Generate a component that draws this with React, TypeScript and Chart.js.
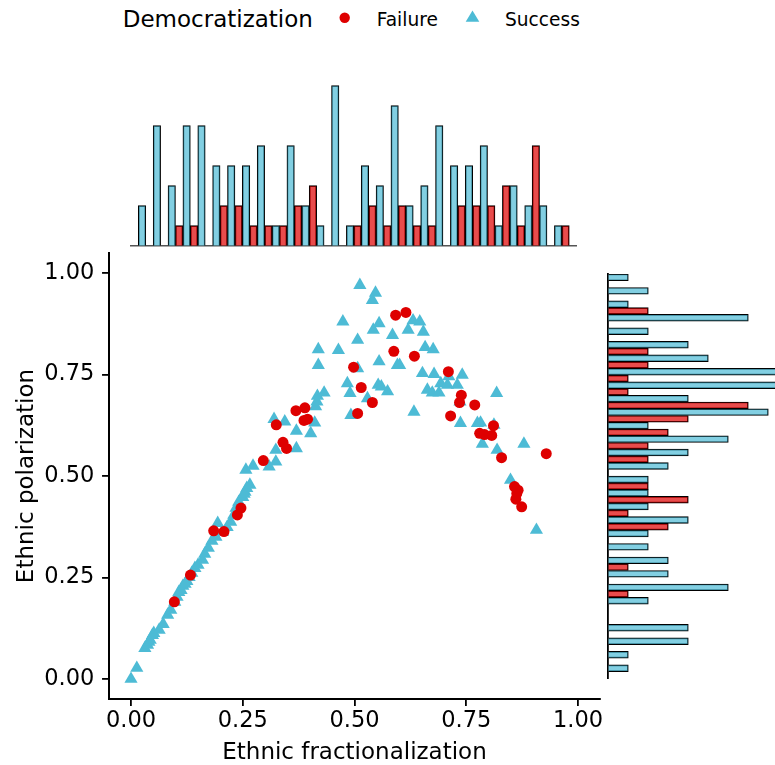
import React, { useEffect, useRef } from "react";
import { Chart, registerables } from "chart.js";

Chart.register(...registerables);

const FONT = "'DejaVu Sans', sans-serif";
const RED = "rgb(222, 0, 0)";
const BLUE = "rgb(77, 187, 213)";
const RED_FILL = "rgba(222, 0, 0, 0.7)";
const BLUE_FILL = "rgba(77, 187, 213, 0.7)";

// ---- Scatter data (Ethnic fractionalization vs Ethnic polarization) ----
const failureFrac = [0.097, 0.133, 0.185, 0.208, 0.238, 0.246, 0.296, 0.325, 0.340, 0.348, 0.369, 0.389, 0.387, 0.395, 0.498, 0.515, 0.540, 0.507, 0.592, 0.615, 0.588, 0.634, 0.710, 0.739, 0.735, 0.769, 0.715, 0.811, 0.791, 0.807, 0.780, 0.829, 0.929, 0.858, 0.863, 0.861, 0.866, 0.874];
const failurePol = [0.190, 0.256, 0.365, 0.363, 0.404, 0.421, 0.538, 0.626, 0.583, 0.568, 0.661, 0.668, 0.637, 0.640, 0.768, 0.718, 0.681, 0.654, 0.896, 0.903, 0.807, 0.795, 0.757, 0.699, 0.681, 0.675, 0.648, 0.624, 0.602, 0.600, 0.605, 0.545, 0.555, 0.474, 0.457, 0.443, 0.465, 0.424];

const successFrac = [0.000, 0.013, 0.031, 0.037, 0.040, 0.043, 0.048, 0.051, 0.063, 0.072, 0.082, 0.089, 0.098, 0.103, 0.107, 0.112, 0.116, 0.121, 0.125, 0.130, 0.136, 0.143, 0.150, 0.160, 0.165, 0.173, 0.181, 0.190, 0.194, 0.205, 0.215, 0.223, 0.230, 0.235, 0.241, 0.250, 0.255, 0.259, 0.266, 0.257, 0.273, 0.309, 0.324, 0.324, 0.320, 0.344, 0.370, 0.370, 0.402, 0.411, 0.417, 0.432, 0.413, 0.416, 0.419, 0.419, 0.464, 0.474, 0.512, 0.547, 0.540, 0.555, 0.542, 0.507, 0.585, 0.555, 0.596, 0.507, 0.484, 0.490, 0.553, 0.574, 0.529, 0.492, 0.631, 0.646, 0.620, 0.654, 0.658, 0.676, 0.601, 0.652, 0.678, 0.711, 0.741, 0.693, 0.708, 0.730, 0.663, 0.674, 0.689, 0.633, 0.736, 0.818, 0.737, 0.775, 0.782, 0.812, 0.786, 0.819, 0.879, 0.849, 0.907, 0.253, 0.560];
const successPol = [0.000, 0.027, 0.076, 0.084, 0.091, 0.096, 0.108, 0.113, 0.121, 0.135, 0.158, 0.170, 0.190, 0.202, 0.214, 0.219, 0.229, 0.234, 0.241, 0.251, 0.261, 0.273, 0.281, 0.293, 0.308, 0.323, 0.340, 0.350, 0.384, 0.362, 0.374, 0.387, 0.404, 0.421, 0.436, 0.448, 0.461, 0.470, 0.478, 0.515, 0.525, 0.523, 0.535, 0.564, 0.640, 0.634, 0.611, 0.568, 0.605, 0.631, 0.697, 0.705, 0.671, 0.683, 0.812, 0.773, 0.810, 0.880, 0.970, 0.951, 0.933, 0.876, 0.860, 0.835, 0.847, 0.782, 0.773, 0.765, 0.728, 0.704, 0.724, 0.708, 0.691, 0.650, 0.883, 0.880, 0.860, 0.855, 0.817, 0.812, 0.773, 0.753, 0.751, 0.745, 0.749, 0.728, 0.724, 0.724, 0.712, 0.705, 0.705, 0.658, 0.683, 0.704, 0.630, 0.630, 0.631, 0.626, 0.579, 0.564, 0.579, 0.490, 0.367, 0.456, 0.720];

const axisTicks = [0, 0.25, 0.5, 0.75, 1];

// ---- Marginal histogram of fractionalization (top), 30 bins ----
const fracBins = [0.000, 0.032, 0.064, 0.096, 0.128, 0.160, 0.192, 0.224, 0.256, 0.288, 0.320, 0.352, 0.384, 0.416, 0.448, 0.480, 0.512, 0.544, 0.576, 0.608, 0.640, 0.672, 0.704, 0.736, 0.768, 0.800, 0.832, 0.864, 0.896, 0.928];
const failureFracCounts = [0, 0, 0, 1, 1, 0, 2, 2, 1, 1, 1, 2, 3, 0, 0, 1, 2, 1, 2, 1, 1, 0, 2, 2, 2, 3, 1, 5, 0, 1];
const successFracCounts = [2, 6, 3, 6, 6, 4, 4, 4, 5, 1, 5, 2, 1, 8, 1, 4, 3, 7, 2, 3, 6, 4, 4, 5, 1, 3, 2, 2, 1, 0];

// ---- Marginal histogram of polarization (right), 30 bins from low to high ----
const polBins = [0.000, 0.033, 0.067, 0.100, 0.134, 0.167, 0.201, 0.234, 0.268, 0.301, 0.334, 0.368, 0.401, 0.435, 0.468, 0.502, 0.535, 0.569, 0.602, 0.635, 0.669, 0.702, 0.736, 0.769, 0.803, 0.836, 0.870, 0.903, 0.937, 0.970];
const failurePolCounts = [0, 0, 0, 0, 0, 0, 1, 0, 1, 0, 0, 3, 1, 4, 2, 0, 2, 2, 3, 4, 7, 1, 1, 2, 2, 0, 0, 2, 0, 0];
const successPolCounts = [1, 1, 4, 4, 0, 2, 6, 3, 3, 2, 2, 4, 2, 2, 2, 3, 4, 6, 2, 8, 4, 9, 9, 5, 4, 2, 7, 1, 2, 1];

const nz = (arr: number[]) => arr.map((v) => (v === 0 ? null : v));

export default function App() {
  const scatterRef = useRef<HTMLCanvasElement>(null);
  const topRef = useRef<HTMLCanvasElement>(null);
  const rightRef = useRef<HTMLCanvasElement>(null);

  useEffect(() => {
    const charts: Chart[] = [];

    // Main scatter
    charts.push(
      new Chart(scatterRef.current as HTMLCanvasElement, {
        type: "scatter",
        data: {
          datasets: [
            {
              label: "Failure",
              data: failureFrac.map((x, i) => ({ x, y: failurePol[i] })),
              pointStyle: "circle",
              pointRadius: 5.5,
              pointBackgroundColor: RED,
              pointBorderWidth: 0,
              borderColor: RED,
              backgroundColor: RED,
            },
            {
              label: "Success",
              data: successFrac.map((x, i) => ({ x, y: successPol[i] })),
              pointStyle: "triangle",
              pointRadius: 7.6,
              pointBackgroundColor: BLUE,
              pointBorderWidth: 0,
              borderColor: BLUE,
              backgroundColor: BLUE,
            },
          ],
        },
        options: {
          responsive: false,
          animation: false,
          events: [],
          layout: { padding: { left: 0, right: 9.65, top: 12.7, bottom: 0 } },
          plugins: { legend: { display: false }, tooltip: { enabled: false } },
          scales: {
            x: {
              type: "linear",
              min: -0.05,
              max: 1.05,
              afterBuildTicks: (s: any) => {
                s.ticks = axisTicks.map((v) => ({ value: v }));
              },
              afterFit: (s: any) => {
                s.height = 65.7;
                s.paddingLeft = 0;
                s.paddingRight = 0;
              },
              grid: { drawOnChartArea: false, drawTicks: true, tickLength: 6.6, color: "#000", lineWidth: 1.8 },
              border: { display: true, color: "#000", width: 2 },
              ticks: {
                padding: 2,
                color: "#000",
                autoSkip: false,
                maxRotation: 0,
                font: { family: FONT, size: 22.5 },
                callback: (v: any) => Number(v).toFixed(2),
              },
              title: {
                display: true,
                text: "Ethnic fractionalization",
                color: "#000",
                font: { family: FONT, size: 23, lineHeight: 1 },
                padding: { top: 0, bottom: 0.5 },
              },
            },
            y: {
              type: "linear",
              min: -0.05,
              max: 1.05,
              afterBuildTicks: (s: any) => {
                s.ticks = axisTicks.map((v) => ({ value: v }));
              },
              afterFit: (s: any) => {
                s.width = 108.65;
                s.paddingTop = 0;
                s.paddingBottom = 0;
              },
              grid: { drawOnChartArea: false, drawTicks: true, tickLength: 6.6, color: "#000", lineWidth: 1.8 },
              border: { display: true, color: "#000", width: 2 },
              ticks: {
                padding: 7.75,
                color: "#000",
                autoSkip: false,
                font: { family: FONT, size: 22.5 },
                callback: (v: any) => Number(v).toFixed(2),
              },
              title: {
                display: true,
                text: "Ethnic polarization",
                color: "#000",
                font: { family: FONT, size: 23, lineHeight: 1 },
                padding: { top: 15.5, bottom: 0 },
              },
            },
          },
        },
      } as any)
    );

    // Top marginal histogram
    charts.push(
      new Chart(topRef.current as HTMLCanvasElement, {
        type: "bar",
        data: {
          labels: fracBins,
          datasets: [
            {
              label: "Failure",
              data: nz(failureFracCounts),
              backgroundColor: RED_FILL,
              borderColor: "#000",
              borderWidth: 1,
              categoryPercentage: 1,
              barPercentage: 1,
            },
            {
              label: "Success",
              data: nz(successFracCounts),
              backgroundColor: BLUE_FILL,
              borderColor: "#000",
              borderWidth: 1,
              categoryPercentage: 1,
              barPercentage: 1,
            },
          ],
        },
        options: {
          responsive: false,
          animation: false,
          events: [],
          layout: { padding: { left: 10.9, right: 13.3, top: 17.7, bottom: 4.3 } },
          plugins: { legend: { display: false }, tooltip: { enabled: false } },
          scales: {
            x: {
              type: "category",
              grid: { drawOnChartArea: false, drawTicks: false },
              ticks: { display: false },
              border: { display: true, color: "#555", width: 1.5 },
              afterFit: (s: any) => {
                s.height = 0;
              },
            },
            y: { display: false, min: 0, max: 8.4 },
          },
        },
      } as any)
    );

    // Right marginal histogram
    charts.push(
      new Chart(rightRef.current as HTMLCanvasElement, {
        type: "bar",
        data: {
          labels: polBins,
          datasets: [
            {
              label: "Success",
              data: nz(successPolCounts),
              backgroundColor: BLUE_FILL,
              borderColor: "#000",
              borderWidth: 1,
              categoryPercentage: 1,
              barPercentage: 1,
            },
            {
              label: "Failure",
              data: nz(failurePolCounts),
              backgroundColor: RED_FILL,
              borderColor: "#000",
              borderWidth: 1,
              categoryPercentage: 1,
              barPercentage: 1,
            },
          ],
        },
        options: {
          indexAxis: "y",
          responsive: false,
          animation: false,
          events: [],
          layout: { padding: { left: 8.3, right: 0, top: 14, bottom: 11.7 } },
          plugins: { legend: { display: false }, tooltip: { enabled: false } },
          scales: {
            y: {
              type: "category",
              reverse: true,
              grid: { drawOnChartArea: false, drawTicks: false },
              ticks: { display: false },
              border: { display: true, color: "#000", width: 1.8 },
              afterFit: (s: any) => {
                s.width = 0;
              },
            },
            x: { display: false, min: 0, max: 8.335 },
          },
        },
      } as any)
    );

    return () => charts.forEach((c) => c.destroy());
  }, []);

  return (
    <div
      style={{
        position: "absolute",
        left: 0,
        top: 0,
        width: 775,
        height: 765,
        background: "#fff",
        overflow: "hidden",
      }}
    >
      <svg
        width={775}
        height={40}
        style={{ position: "absolute", left: 0, top: 0 }}
        fontFamily="DejaVu Sans, sans-serif"
      >
        <text x={122.7} y={27} fontSize={23} fill="#000">
          Democratization
        </text>
        <circle cx={344.7} cy={17.7} r={5.2} fill={RED} />
        <text x={376.7} y={25.7} fontSize={18.6} fill="#000">
          Failure
        </text>
        <polygon points="465.7,21.8 479.3,21.8 472.5,10.4" fill={BLUE} />
        <text x={505} y={25.7} fontSize={18.6} fill="#000">
          Success
        </text>
      </svg>
      <canvas
        ref={topRef}
        width={470}
        height={190}
        style={{ position: "absolute", left: 120, top: 60, width: 470, height: 190 }}
      />
      <canvas
        ref={rightRef}
        width={175}
        height={430}
        style={{ position: "absolute", left: 600, top: 260, width: 175, height: 430 }}
      />
      <canvas
        ref={scatterRef}
        width={610}
        height={525}
        style={{ position: "absolute", left: 0, top: 240, width: 610, height: 525 }}
      />
    </div>
  );
}
